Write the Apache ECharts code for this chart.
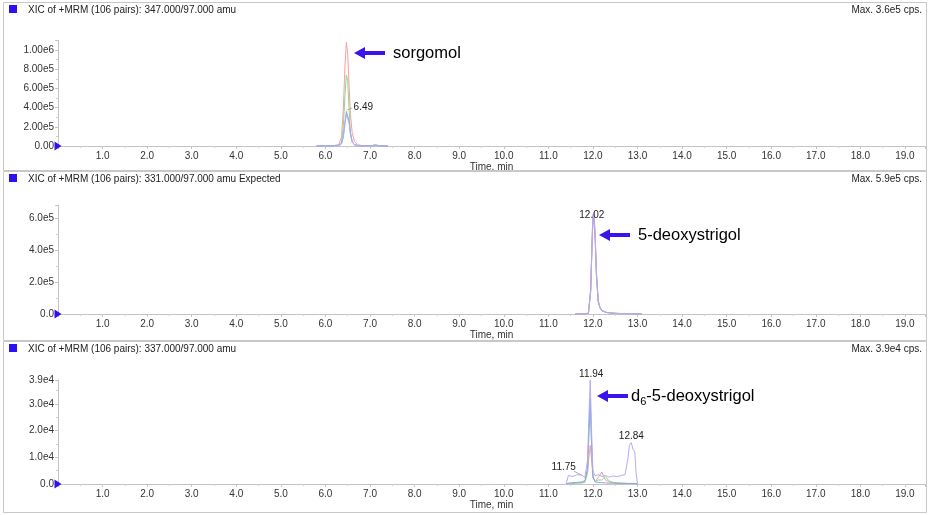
<!DOCTYPE html>
<html><head><meta charset="utf-8">
<script src="https://cdn.jsdelivr.net/npm/echarts@6/dist/echarts.min.js"></script>
<style>html,body{margin:0;padding:0;background:#fff}#c{width:930px;height:515px}</style>
</head><body><div id="c"></div>
<script>
// ---------- DATA ----------
const panelTitles = [
  'XIC of +MRM (106 pairs): 347.000/97.000 amu',
  'XIC of +MRM (106 pairs): 331.000/97.000 amu Expected',
  'XIC of +MRM (106 pairs): 337.000/97.000 amu'
];
const panelMax = ['Max. 3.6e5 cps.', 'Max. 5.9e5 cps.', 'Max. 3.9e4 cps.'];
const compoundNames = ['sorgomol', '5-deoxystrigol', 'd6-5-deoxystrigol'];
const xTicks = [1,2,3,4,5,6,7,8,9,10,11,12,13,14,15,16,17,18,19];

// Panel 1 (347/97)
const times1  = [5.80, 6.00, 6.20, 6.30, 6.36, 6.40, 6.44, 6.47, 6.50, 6.53, 6.56, 6.60, 6.65, 6.72, 6.80, 6.95, 7.05, 7.12, 7.20, 7.40];
const red1    = [0, 2e3, 5e3, 1.5e4, 9e4, 3.8e5, 8.6e5, 1.08e6, 9.6e5, 6.3e5, 3.3e5, 1.4e5, 4.5e4, 1.4e4, 6e3, 4e3, 5e3, 8e3, 3e3, 1e3];
const green1  = [0, 1e3, 3e3, 8e3, 4e4, 2.0e5, 5.5e5, 7.4e5, 6.8e5, 3.8e5, 1.5e5, 4.5e4, 1.2e4, 5e3, 3e3, 2e3, 6e3, 1.5e4, 4e3, 1e3];
const blue1   = [0, 1e3, 2e3, 5e3, 2.5e4, 1.0e5, 2.6e5, 3.6e5, 3.7e5, 2.6e5, 1.3e5, 4.5e4, 1.5e4, 5e3, 2e3, 1e3, 2e3, 5e3, 2e3, 500];
const purple1 = [0, 800, 1500, 4e3, 2e4, 9.0e4, 2.4e5, 3.3e5, 3.4e5, 2.4e5, 1.2e5, 4.0e4, 1.3e4, 4e3, 2e3, 1e3, 2e3, 4e3, 1.5e3, 400];

// Panel 2 (331/97)
const times2  = [11.60, 11.80, 11.90, 11.95, 11.98, 12.00, 12.02, 12.05, 12.08, 12.12, 12.16, 12.20, 12.30, 12.45, 12.60, 12.80, 13.00, 13.10];
const red2    = [0, 1e3, 5e3, 1.5e5, 4.5e5, 6.1e5, 6.3e5, 5.0e5, 2.5e5, 8.0e4, 4.0e4, 2.2e4, 1.0e4, 5e3, 3e3, 2e3, 1e3, 0];
const green2  = [0, 800, 4e3, 1.4e5, 4.3e5, 5.9e5, 6.1e5, 4.8e5, 2.4e5, 7.6e4, 3.8e4, 2.1e4, 9e3, 5e3, 2.5e3, 1.8e3, 900, 0];
const blue2   = [0, 900, 4e3, 1.4e5, 4.2e5, 5.8e5, 6.0e5, 4.7e5, 2.3e5, 7.4e4, 3.7e4, 2.0e4, 9e3, 4.5e3, 2.5e3, 1.5e3, 800, 0];
const purple2 = [0, 1.2e3, 6e3, 1.6e5, 4.6e5, 6.2e5, 6.35e5, 5.1e5, 2.6e5, 8.2e4, 4.2e4, 2.3e4, 1.1e4, 6e3, 3.5e3, 2.5e3, 1.2e3, 0];

// Panel 3 (337/97)
const times3  = [11.40, 11.45, 11.55, 11.65, 11.75, 11.82, 11.88, 11.91, 11.94, 11.97, 12.00, 12.05, 12.12, 12.20, 12.28, 12.36, 12.45, 12.55, 12.65, 12.72, 12.78, 12.82, 12.86, 12.90, 12.94, 12.97, 13.00];
const red3    = [0, 200, 300, 400, 500, 800, 4000, 10000, 14500, 9000, 2500, 800, 2500, 4500, 1500, 800, 500, 400, 300, 300, 200, 200, 200, 200, 200, 100, 0];
const green3  = [0, 100, 200, 300, 400, 600, 5000, 18000, 30000, 14000, 2500, 1000, 1500, 1500, 2800, 1200, 600, 400, 300, 200, 200, 200, 200, 200, 200, 100, 0];
const blue3   = [0, 300, 500, 600, 800, 1200, 6000, 20000, 32000, 15000, 3000, 800, 600, 500, 400, 300, 300, 200, 200, 200, 200, 200, 200, 200, 200, 100, 0];
const purple3 = [0, 3200, 2800, 3500, 3300, 2500, 9000, 25000, 39000, 20000, 5000, 3000, 3500, 2800, 3200, 2600, 3000, 2800, 3200, 3500, 9000, 14500, 15500, 13000, 12000, 4000, 0];

// Peak labels: [panel, time, intensity, text]
const peakLabels = [
  [0, 6.49, 3.75e5, '6.49'],
  [1, 12.02, 6.3e5, '12.02'],
  [2, 11.94, 3.9e4, '11.94'],
  [2, 12.84, 1.55e4, '12.84'],
  [2, 11.75, 3.3e3, '11.75']
];
// Arrow anchor (tip) in data coords: [panel, time, intensity]
const arrowAnchors = [[0, 6.65, 9.7e5], [1, 12.14, 4.94e5], [2, 12.10, 3.3e4]];

// ---------- STYLE / LAYOUT ----------
const FONT = 'Liberation Sans, Arial, sans-serif';
const colors = { red: '#ff9c9c', green: '#8ed88e', blue: '#88a8ec', purple: '#b3abf6' };
const grids = [
  { left: 58, right: 5, top: 40.4, height: 105.6 },
  { left: 58, right: 5, top: 205.2, height: 108.8 },
  { left: 58, right: 5, top: 380, height: 104 }
];
const yMax = [1.1e6, 6.8e5, 3.9e4];
const yInt = [2e5, 2e5, 1e4];
const panelRects = [[3, 2, 923, 168], [3, 171, 923, 169], [3, 341, 923, 171]];
const labelOffsets = [[16, -3], [-2, 2], [1, -6], [1, -6], [-18, -8]];
const leaderLines = [[0, 6.49, 3.75e5, 5, -2], [2, 11.75, 3.3e3, -8, -4]];

function fmtY(p) {
  return function (v) {
    if (p === 0) {
      if (v > 1e6 + 1) return '';
      if (v === 0) return '0.00';
      const e = Math.floor(Math.log10(v));
      return (v / Math.pow(10, e)).toFixed(2) + 'e' + e;
    }
    if (p === 1 && v > 6e5 + 1) return '';
    if (v === 0) return '0.0';
    const e = Math.floor(Math.log10(v));
    return (v / Math.pow(10, e)).toFixed(1) + 'e' + e;
  };
}

const panelData = [
  [times1, [['red', red1], ['green', green1], ['blue', blue1], ['purple', purple1]]],
  [times2, [['green', green2], ['blue', blue2], ['red', red2], ['purple', purple2]]],
  [times3, [['red', red3], ['green', green3], ['blue', blue3], ['purple', purple3]]]
];

const xAxes = [], yAxes = [], series = [];
for (let p = 0; p < 3; p++) {
  xAxes.push({
    gridIndex: p, type: 'value', min: 0, max: 19.45, interval: 1,
    name: 'Time, min', nameLocation: 'middle', nameGap: 15,
    nameTextStyle: { fontFamily: FONT, fontSize: 10, color: '#333' },
    axisLine: { lineStyle: { color: '#c4c4c4' } },
    axisTick: { show: true, length: 3, lineStyle: { color: '#c4c4c4' } },
    minorTick: { show: true, splitNumber: 2, length: 2, lineStyle: { color: '#d0d0d0' } },
    splitLine: { show: false },
    axisLabel: {
      fontFamily: FONT, fontSize: 10, color: '#333', margin: 5,
      formatter: v => (xTicks.indexOf(v) >= 0 ? v.toFixed(1) : '')
    }
  });
  yAxes.push({
    gridIndex: p, type: 'value', min: 0, max: yMax[p], interval: yInt[p],
    axisLine: { show: true, lineStyle: { color: '#c4c4c4' } },
    axisTick: { show: true, length: 3, lineStyle: { color: '#c4c4c4' } },
    minorTick: { show: true, splitNumber: 2, length: 2, lineStyle: { color: '#d0d0d0' } },
    splitLine: { show: false },
    axisLabel: { fontFamily: FONT, fontSize: 10, color: '#333', margin: 4, formatter: fmtY(p) }
  });
  const [times, traces] = panelData[p];
  traces.forEach(([c, vals], k) => {
    const s = {
      type: 'line', xAxisIndex: p, yAxisIndex: p, showSymbol: false, silent: true,
      data: times.map((t, i) => [t, vals[i]]),
      lineStyle: { width: 1, color: colors[c] }, itemStyle: { color: colors[c] },
      clip: false, z: 2 + k
    };
    if (k === 0) {
      s.markPoint = {
        silent: true,
        data: [{ coord: [0, 0], symbol: 'triangle', symbolSize: [9, 7], symbolRotate: -90,
                 itemStyle: { color: '#2f10ee' }, label: { show: false } }]
      };
    }
    series.push(s);
  });
}

const chart = echarts.init(document.getElementById('c'), null, { renderer: 'canvas' });
chart.setOption({
  animation: false,
  backgroundColor: '#fff',
  grid: grids,
  xAxis: xAxes,
  yAxis: yAxes,
  series: series
});

// ---------- ANNOTATIONS ----------
const g = [];
panelRects.forEach((r, p) => {
  g.push({ type: 'rect', shape: { x: r[0] + 0.5, y: r[1] + 0.5, width: r[2], height: r[3] },
           style: { fill: 'none', stroke: '#c8c8c8', lineWidth: 1 }, z: 1 });
  g.push({ type: 'rect', shape: { x: 9, y: r[1] + 3, width: 8, height: 8 },
           style: { fill: '#2f10ee' }, z: 10 });
  g.push({ type: 'text', x: 28, y: r[1] + 8,
           style: { text: panelTitles[p], font: '10px ' + FONT, fill: '#222', verticalAlign: 'middle' }, z: 10 });
  g.push({ type: 'text', x: 922, y: r[1] + 8,
           style: { text: panelMax[p], font: '10px ' + FONT, fill: '#222', align: 'right', verticalAlign: 'middle' }, z: 10 });
});
peakLabels.forEach(([p, t, v, txt], i) => {
  const pt = chart.convertToPixel({ gridIndex: p }, [t, v]);
  g.push({ type: 'text', x: pt[0] + labelOffsets[i][0], y: pt[1] + labelOffsets[i][1],
           style: { text: txt, font: '10px ' + FONT, fill: '#222', align: 'center', verticalAlign: 'middle' }, z: 20 });
});
leaderLines.forEach(([p, t, v, dx, dy]) => {
  const pt = chart.convertToPixel({ gridIndex: p }, [t, v]);
  g.push({ type: 'line', shape: { x1: pt[0], y1: pt[1], x2: pt[0] + dx, y2: pt[1] + dy },
           style: { stroke: '#b0b0b0', lineWidth: 1 }, z: 19 });
});
arrowAnchors.forEach(([p, t, v], i) => {
  const pt = chart.convertToPixel({ gridIndex: p }, [t, v]);
  const x = Math.round(pt[0]), y = Math.round(pt[1]);
  g.push({ type: 'polygon', shape: { points: [[x, y], [x + 11, y - 6], [x + 11, y - 2], [x + 31, y - 2],
           [x + 31, y + 2], [x + 11, y + 2], [x + 11, y + 6]] }, style: { fill: '#3a14ea' }, z: 20 });
  if (i === 2) {
    g.push({ type: 'text', x: x + 34, y: y,
      style: { text: '{a|d}{s|6}{a|-5-deoxystrigol}', verticalAlign: 'middle',
        rich: { a: { font: '16.5px ' + FONT, fill: '#000', lineHeight: 20 },
                s: { font: '11px ' + FONT, fill: '#000', padding: [11, 0, 0, 0], lineHeight: 20 } } }, z: 20 });
  } else {
    g.push({ type: 'text', x: x + 39, y: y,
      style: { text: compoundNames[i], font: '16.5px ' + FONT, fill: '#000', verticalAlign: 'middle' }, z: 20 });
  }
});
chart.setOption({ graphic: g });
</script>
</body></html>
